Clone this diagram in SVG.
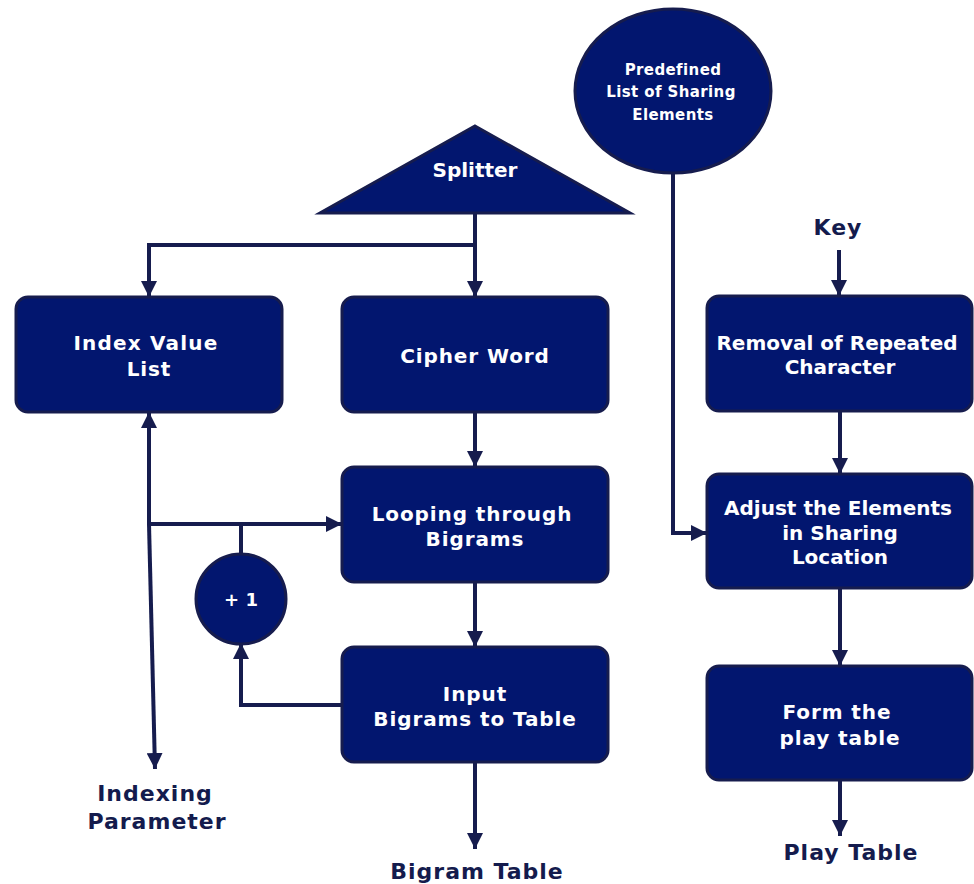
<svg xmlns="http://www.w3.org/2000/svg" width="974" height="884" viewBox="0 0 974 884">
<defs>
<style>
.box{fill:#02166f;stroke:#161c4e;stroke-width:3}
.t{fill:#ffffff;font-family:"DejaVu Sans",Verdana,sans-serif;font-weight:bold;font-size:20px;text-anchor:middle;letter-spacing:0.9px}
.t0{fill:#ffffff;font-family:"DejaVu Sans",Verdana,sans-serif;font-weight:bold;font-size:20px;text-anchor:middle}
.ts{fill:#ffffff;font-family:"DejaVu Sans",Verdana,sans-serif;font-weight:bold;font-size:15px;text-anchor:middle;letter-spacing:0.4px}
.lbl{fill:#141b4d;font-family:"DejaVu Sans",Verdana,sans-serif;font-weight:bold;font-size:22px;text-anchor:middle;letter-spacing:1px}
.c{fill:none;stroke:#161c4e;stroke-width:4}
</style>
<marker id="ah" viewBox="0 0 10 10" refX="10" refY="5" markerWidth="4" markerHeight="4" orient="auto" markerUnits="strokeWidth">
<path d="M0,0 L10,5 L0,10 z" fill="#161c4e"/>
</marker>
</defs>

<g id="connectors">
<path class="c" d="M475,213 V297" marker-end="url(#ah)"/>
<path class="c" d="M475,245 H149 V297" marker-end="url(#ah)"/>
<path class="c" d="M475,412 V467" marker-end="url(#ah)"/>
<path class="c" d="M475,582 V647" marker-end="url(#ah)"/>
<path class="c" d="M342,705 H241 V643" marker-end="url(#ah)"/>
<path class="c" d="M241,555 V524"/>
<path class="c" d="M149,524 H342" marker-end="url(#ah)"/>
<path class="c" d="M149,524 V412" marker-end="url(#ah)"/>
<path class="c" d="M149,524 L155,769" marker-end="url(#ah)"/>
<path class="c" d="M475,762 V849" marker-end="url(#ah)"/>
<path class="c" d="M673,173 V533 H707" marker-end="url(#ah)"/>
<path class="c" d="M839,250 V296" marker-end="url(#ah)"/>
<path class="c" d="M840,411 V474" marker-end="url(#ah)"/>
<path class="c" d="M840,588 V666" marker-end="url(#ah)"/>
<path class="c" d="M840,780 V836" marker-end="url(#ah)"/>
</g>

<g id="splitter">
<polygon class="box" points="475,126 630,213 320,213"/>
<text class="t0" x="475" y="177">Splitter</text>
</g>

<g id="predefined">
<ellipse class="box" cx="673" cy="91" rx="98" ry="82"/>
<text class="ts" x="673" y="75">Predefined</text>
<text class="ts" x="671" y="97">List of Sharing</text>
<text class="ts" x="673" y="120">Elements</text>
</g>

<g id="indexValueList">
<rect class="box" x="16" y="297" width="266" height="115" rx="12"/>
<text class="t" x="146" y="350" style="letter-spacing:1.2px">Index Value</text>
<text class="t" x="149" y="376">List</text>
</g>

<g id="cipherWord">
<rect class="box" x="342" y="297" width="266" height="115" rx="12"/>
<text class="t" x="475" y="363">Cipher Word</text>
</g>

<g id="looping">
<rect class="box" x="342" y="467" width="266" height="115" rx="12"/>
<text class="t" x="472" y="521">Looping through</text>
<text class="t" x="475" y="546">Bigrams</text>
</g>

<g id="plusOne">
<circle class="box" cx="241" cy="599" r="45"/>
<text class="t0" x="241" y="606" style="font-size:18px">+ 1</text>
</g>

<g id="inputBigrams">
<rect class="box" x="342" y="647" width="266" height="115" rx="12"/>
<text class="t" x="475" y="701">Input</text>
<text class="t" x="475" y="726">Bigrams to Table</text>
</g>

<g id="removal">
<rect class="box" x="707" y="296" width="265" height="115" rx="12"/>
<text class="t0" x="837" y="350">Removal of Repeated</text>
<text class="t0" x="840" y="374">Character</text>
</g>

<g id="adjust">
<rect class="box" x="707" y="474" width="265" height="114" rx="12"/>
<text class="t0" x="838" y="515">Adjust the Elements</text>
<text class="t0" x="840" y="540">in Sharing</text>
<text class="t0" x="840" y="564">Location</text>
</g>

<g id="formTable">
<rect class="box" x="707" y="666" width="265" height="114" rx="12"/>
<text class="t" x="837" y="719">Form the</text>
<text class="t" x="840" y="745">play table</text>
</g>

<g id="labels">
<text class="lbl" x="838" y="235">Key</text>
<text class="lbl" x="155" y="801">Indexing</text>
<text class="lbl" x="157" y="829">Parameter</text>
<text class="lbl" x="477" y="879">Bigram Table</text>
<text class="lbl" x="851" y="860">Play Table</text>
</g>
</svg>
